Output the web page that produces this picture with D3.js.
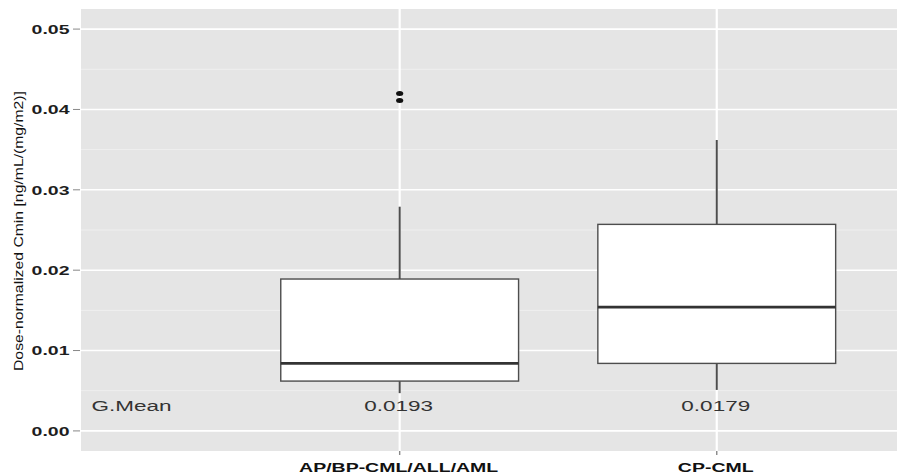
<!DOCTYPE html>
<html>
<head>
<meta charset="utf-8">
<script src="https://cdn.jsdelivr.net/npm/d3@7"></script>
<style>
  html, body { margin: 0; padding: 0; background: #fff; }
  svg { display: block; }
  text { font-family: "Liberation Sans", Arial, Helvetica, sans-serif; }
</style>
</head>
<body>
<svg id="chart" width="897" height="474"></svg>
<script>
// Box-plot summary per group
const categories = ["AP/BP-CML/ALL/AML", "CP-CML"];
const lowerWhisker = [0.0047, 0.0051];
const q1 = [0.0062, 0.0084];
const median = [0.0084, 0.0154];
const q3 = [0.0189, 0.0257];
const upperWhisker = [0.0279, 0.0362];
const outliers = [[0.0420, 0.0411], []];
const gMeanLabels = ["0.0193", "0.0179"];
const gMeanTitle = "G.Mean";
const yTicks = [0, 0.01, 0.02, 0.03, 0.04, 0.05];
const yMinor = [0.005, 0.015, 0.025, 0.035, 0.045];
const yTitle = "Dose-normalized Cmin [ng/mL/(mg/m2)]";

const W = 897, H = 474;
const panel = { left: 81, top: 9, bottom: 451, right: 907 };
const stretch = 1.5; // horizontal glyph aspect

const svg = d3.select("#chart");

// discrete positions 1..n on a continuous axis; 0 hosts the G.Mean caption
const x = d3.scaleLinear().domain([-0.005, 2.6]).range([panel.left, panel.right]);
const y = d3.scaleLinear().domain([-0.0025, 0.0525]).range([panel.bottom, panel.top]);
const boxWidth = 0.75;

// panel background
svg.append("rect")
  .attr("x", panel.left).attr("y", panel.top)
  .attr("width", panel.right - panel.left).attr("height", panel.bottom - panel.top)
  .attr("fill", "#e5e5e5");

// grid
svg.append("g").selectAll("line").data(yMinor).join("line")
  .attr("x1", panel.left).attr("x2", panel.right)
  .attr("y1", d => y(d)).attr("y2", d => y(d))
  .attr("stroke", "#f2f2f2").attr("stroke-width", 0.8);
svg.append("g").selectAll("line").data(yTicks).join("line")
  .attr("x1", panel.left).attr("x2", panel.right)
  .attr("y1", d => y(d)).attr("y2", d => y(d))
  .attr("stroke", "#ffffff").attr("stroke-width", 1.6);
svg.append("g").selectAll("line").data(categories).join("line")
  .attr("x1", (d, i) => x(i + 1)).attr("x2", (d, i) => x(i + 1))
  .attr("y1", panel.top).attr("y2", panel.bottom)
  .attr("stroke", "#ffffff").attr("stroke-width", 2.2);

// boxes
const groups = svg.append("g").selectAll("g").data(categories).join("g");
groups.append("line") // upper whisker
  .attr("x1", (d, i) => x(i + 1)).attr("x2", (d, i) => x(i + 1))
  .attr("y1", (d, i) => y(q3[i])).attr("y2", (d, i) => y(upperWhisker[i]))
  .attr("stroke", "#4d4d4d").attr("stroke-width", 2);
groups.append("line") // lower whisker
  .attr("x1", (d, i) => x(i + 1)).attr("x2", (d, i) => x(i + 1))
  .attr("y1", (d, i) => y(q1[i])).attr("y2", (d, i) => y(lowerWhisker[i]))
  .attr("stroke", "#4d4d4d").attr("stroke-width", 2);
groups.append("rect")
  .attr("x", (d, i) => x(i + 1 - boxWidth / 2))
  .attr("width", x(1 + boxWidth / 2) - x(1 - boxWidth / 2))
  .attr("y", (d, i) => y(q3[i]))
  .attr("height", (d, i) => y(q1[i]) - y(q3[i]))
  .attr("fill", "#ffffff").attr("stroke", "#4d4d4d").attr("stroke-width", 1.4);
groups.append("line") // median
  .attr("x1", (d, i) => x(i + 1 - boxWidth / 2)).attr("x2", (d, i) => x(i + 1 + boxWidth / 2))
  .attr("y1", (d, i) => y(median[i])).attr("y2", (d, i) => y(median[i]))
  .attr("stroke", "#333333").attr("stroke-width", 2.6);
groups.each(function(d, i) {
  d3.select(this).selectAll("ellipse").data(outliers[i]).join("ellipse")
    .attr("cx", x(i + 1)).attr("cy", v => y(v))
    .attr("rx", 3.6).attr("ry", 2.5)
    .attr("fill", "#111111");
});

// helper: horizontally stretched text
function stretchedText(sel, px, py) {
  return sel.attr("transform", `translate(${px},${py}) scale(${stretch},1)`);
}

// G.Mean annotations
stretchedText(svg.append("text"), x(0.028), 410.5)
  .attr("font-size", 15).attr("fill", "#333").text(gMeanTitle);
categories.forEach((c, i) => {
  stretchedText(svg.append("text"), x(i + 1) - 1, 410.5)
    .attr("font-size", 15).attr("fill", "#333").attr("text-anchor", "middle")
    .text(gMeanLabels[i]);
});

// y axis ticks and labels
const fmt = d3.format(".2f");
svg.append("g").selectAll("line").data(yTicks).join("line")
  .attr("x1", 73).attr("x2", panel.left - 1)
  .attr("y1", d => y(d)).attr("y2", d => y(d))
  .attr("stroke", "#888").attr("stroke-width", 1);
yTicks.forEach(t => {
  stretchedText(svg.append("text"), 69.5, y(t) + 4.7)
    .attr("font-size", 13).attr("font-weight", "bold").attr("fill", "#1e1e1e")
    .attr("text-anchor", "end").text(fmt(t));
});

// x axis ticks and labels
svg.append("g").selectAll("line").data(categories).join("line")
  .attr("x1", (d, i) => x(i + 1)).attr("x2", (d, i) => x(i + 1))
  .attr("y1", panel.bottom).attr("y2", panel.bottom + 4)
  .attr("stroke", "#888").attr("stroke-width", 1.4);
categories.forEach((c, i) => {
  stretchedText(svg.append("text"), x(i + 1) - 1, 471.5)
    .attr("font-size", 13).attr("font-weight", "bold").attr("fill", "#111")
    .attr("text-anchor", "middle").text(c);
});

// y axis title
svg.append("text")
  .attr("transform", "translate(22.5,231) rotate(-90)")
  .attr("font-size", 13).attr("fill", "#111")
  .attr("text-anchor", "middle")
  .attr("textLength", 280).attr("lengthAdjust", "spacingAndGlyphs")
  .text(yTitle);
</script>
</body>
</html>
